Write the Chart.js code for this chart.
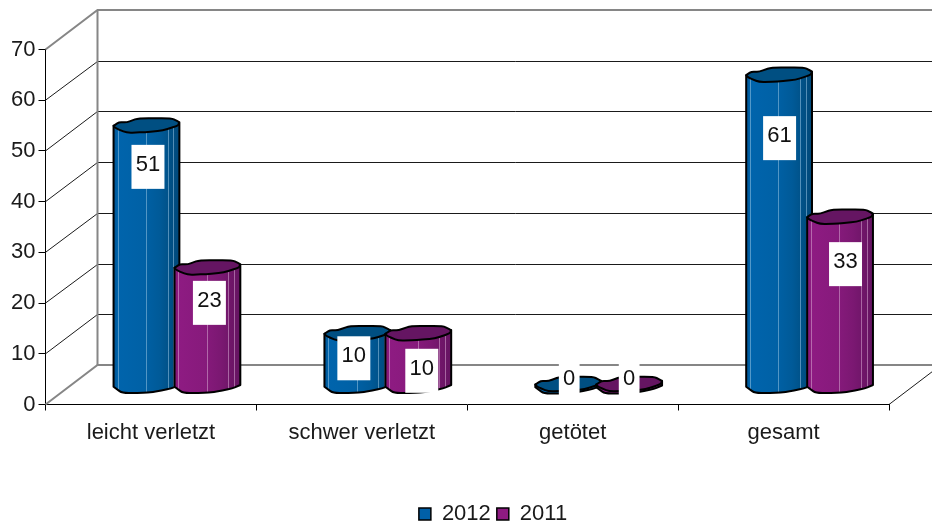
<!DOCTYPE html>
<html>
<head>
<meta charset="utf-8">
<style>
    html, body { margin: 0; padding: 0; background: #fff; }
    #wrap { width: 932px; height: 525px; }
</style>
<script src="https://cdn.jsdelivr.net/npm/chart.js@4/dist/chart.umd.min.js"></script>
</head>
<body>
<div id="wrap"><canvas id="unfallChart"></canvas></div>
<script>
const categories = ['leicht verletzt', 'schwer verletzt', 'getötet', 'gesamt'];
const values2012 = [51, 10, 0, 61];
const values2011 = [23, 10, 0, 33];

// hand placed value labels in the original: [dx, dy] from the top of the column
const labelShift2012 = [[1.5, 41], [-3.5, 24.5], [1, -4], [0.5, 63]];
const labelShift2011 = [[2, 35], [3.5, 37], [0, -4], [5.5, 47]];

const FONT = '"Liberation Sans", Arial, sans-serif';
const DEPTH_X = 52;
const DEPTH_Y = 39.5;
const BAR_DX = 26;   // columns stand halfway into the floor
const BAR_DY = 20;

const looks = {
    blue: {
        top: '#004f82',
        streak: 'rgba(150,195,225,0.55)',
        stops: [[0, '#00528f'], [0.06, '#0064ac'], [0.45, '#0061a6'], [0.7, '#005a98'], [0.9, '#004e82'], [1, '#00487a']]
    },
    purple: {
        top: '#651562',
        streak: 'rgba(215,170,210,0.55)',
        stops: [[0, '#7a1670'], [0.06, '#8e1b82'], [0.45, '#871a7c'], [0.7, '#7b1872'], [0.9, '#6c1566'], [1, '#651462']]
    }
};

// wobbly outline of the column, u across the width, v in px from the centre line
const capOutline = [[0, 0], [0.08, -3.5], [0.2, -3.5], [0.38, -7.7], [0.88, -7.7], [1, -3.7],
    [0.98, -0.3], [0.75, 4.7], [0.48, 6.3], [0.2, 7], [0.03, 2.3]];
const footOutline = [[0, 2.7], [0.13, 9], [0.46, 9], [0.66, 7.5], [0.88, 4.3], [1, 1]];
const streaks = [0.06, 0.49, 0.82, 0.91];

// goes through the points, only rounding off the corners
function softLine(path, pts) {
    pts.forEach((p, i) => {
        if (i === 0 || i === pts.length - 1) {
            path.lineTo(p[0], p[1]);
            return;
        }
        const a = pts[i - 1], b = pts[i + 1];
        path.lineTo(p[0] + (a[0] - p[0]) * 0.3, p[1] + (a[1] - p[1]) * 0.3);
        path.quadraticCurveTo(p[0], p[1], p[0] + (b[0] - p[0]) * 0.3, p[1] + (b[1] - p[1]) * 0.3);
    });
}

function drawColumn(ctx, el, look) {
    const x0 = el.x + BAR_DX - el.width / 2;
    const w = el.width;
    const topY = el.y - BAR_DY;
    const baseY = el.base - BAR_DY;

    const grad = ctx.createLinearGradient(x0, 0, x0 + w, 0);
    look.stops.forEach(s => grad.addColorStop(s[0], s[1]));

    ctx.save();
    ctx.lineJoin = 'round';
    ctx.strokeStyle = '#000';
    ctx.lineWidth = 2;

    const body = new Path2D();
    body.moveTo(x0, topY);
    softLine(body, footOutline.map(p => [x0 + p[0] * w, baseY + p[1]]));
    body.lineTo(x0 + w, topY - 3.7);
    body.closePath();
    ctx.fillStyle = grad;
    ctx.fill(body);

    ctx.save();
    ctx.clip(body);
    ctx.strokeStyle = look.streak;
    ctx.lineWidth = 1;
    streaks.forEach(u => {
        ctx.beginPath();
        ctx.moveTo(Math.round(x0 + u * w) + 0.5, topY);
        ctx.lineTo(Math.round(x0 + u * w) + 0.5, baseY + 10);
        ctx.stroke();
    });
    ctx.restore();
    ctx.stroke(body);

    const cap = new Path2D();
    const capPts = capOutline.map(p => [x0 + p[0] * w, topY + p[1]]);
    capPts.push(capPts[0]);
    cap.moveTo(capPts[0][0], capPts[0][1]);
    softLine(cap, capPts);
    cap.closePath();
    ctx.fillStyle = look.top;
    ctx.fill(cap);
    ctx.stroke(cap);
    ctx.restore();
}

const walls3d = {
    id: 'walls3d',
    afterLayout(chart) {
        // the legend sits under the back wall, lower than the library would put it
        chart.legend.left += 48.5;
        chart.legend.right += 48.5;
        chart.legend.top += 10;
        chart.legend.bottom += 10;
    },
    beforeDatasetsDraw(chart) {
        const { ctx, chartArea: a, scales: { y } } = chart;
        const maxVal = y.max;
        ctx.save();
        y.ticks.forEach(t => {
            const py = y.getPixelForValue(t.value);
            const edge = t.value === 0 || t.value === maxVal;
            ctx.strokeStyle = edge ? '#868686' : '#1a1a1a';
            ctx.lineWidth = edge ? 2 : 1;
            const backY = Math.round(py - DEPTH_Y) + (edge ? 0 : 0.5);
            ctx.beginPath();
            ctx.moveTo(a.left, py);
            ctx.lineTo(a.left + DEPTH_X, backY);
            ctx.lineTo(a.right + DEPTH_X, backY);
            ctx.stroke();
        });
        // back wall left edge
        ctx.strokeStyle = '#868686';
        ctx.lineWidth = 2;
        ctx.beginPath();
        ctx.moveTo(a.left + DEPTH_X, a.top - DEPTH_Y);
        ctx.lineTo(a.left + DEPTH_X, a.bottom - DEPTH_Y);
        ctx.stroke();
        // floor right edge
        ctx.strokeStyle = '#1a1a1a';
        ctx.lineWidth = 1;
        ctx.beginPath();
        ctx.moveTo(a.right, a.bottom);
        ctx.lineTo(a.right + DEPTH_X, a.bottom - DEPTH_Y);
        ctx.stroke();
        ctx.restore();
    },
    beforeDatasetDraw() {
        return false; // columns are painted below, native rectangles only give the geometry
    },
    afterDatasetsDraw(chart) {
        const { ctx } = chart;
        const sets = [[0, looks.blue, labelShift2012], [1, looks.purple, labelShift2011]];
        sets.forEach(s => {
            chart.getDatasetMeta(s[0]).data.forEach(el => drawColumn(ctx, el, s[1]));
        });
        ctx.save();
        ctx.font = '22px ' + FONT;
        ctx.textAlign = 'center';
        ctx.textBaseline = 'middle';
        sets.forEach(s => {
            chart.getDatasetMeta(s[0]).data.forEach((el, i) => {
                const cx = el.x + BAR_DX + s[2][i][0];
                const cy = el.y - BAR_DY + s[2][i][1];
                const text = String(chart.data.datasets[s[0]].data[i]);
                const w = ctx.measureText(text).width + 8.5;
                ctx.fillStyle = '#fff';
                ctx.fillRect(cx - w / 2, cy - 22, w, 44);
                ctx.fillStyle = '#111';
                ctx.fillText(text, cx, cy - 2);
            });
        });
        ctx.restore();
    }
};

new Chart(document.getElementById('unfallChart'), {
    type: 'bar',
    data: {
        labels: categories,
        datasets: [
            { label: '2012', data: values2012, backgroundColor: '#0060a8', borderColor: '#000', borderWidth: 1.5 },
            { label: '2011', data: values2011, backgroundColor: '#8e1b82', borderColor: '#000', borderWidth: 1.5 }
        ]
    },
    options: {
        responsive: true,
        maintainAspectRatio: false,
        animation: false,
        layout: { padding: { top: 49.5, right: 43, left: 0, bottom: 0 } },
        datasets: { bar: { categoryPercentage: 0.578, barPercentage: 1.08 } },
        scales: {
            x: {
                afterFit: s => { s.height = 82.5; },
                grid: { drawOnChartArea: false, tickLength: 6, color: '#000', offset: true },
                border: { color: '#000', width: 1 },
                ticks: { color: '#1a1a1a', padding: 9, maxRotation: 0, font: { family: FONT, size: 22 } }
            },
            y: {
                min: 0,
                max: 70,
                afterFit: s => { s.width = 45.5; },
                grid: { drawOnChartArea: false, tickLength: 7, color: '#000' },
                border: { color: '#000', width: 1 },
                ticks: { stepSize: 10, color: '#1a1a1a', padding: 3, font: { family: FONT, size: 22 } }
            }
        },
        plugins: {
            tooltip: { enabled: false },
            legend: {
                position: 'bottom',
                labels: { boxWidth: 12, boxHeight: 12, padding: 6, color: '#1a1a1a', font: { family: FONT, size: 22 } }
            }
        }
    },
    plugins: [walls3d]
});
</script>
</body>
</html>
